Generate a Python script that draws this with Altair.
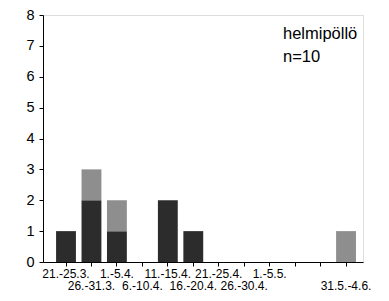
import altair as alt
import pandas as pd

cats = ["21.-25.3.", "26.-31.3.", "1.-5.4.", "6.-10.4.", "11.-15.4.", "16.-20.4.",
        "21.-25.4.", "26.-30.4.", "1.-5.5.", "6.-10.5.", "11.-15.5.", "31.5.-4.6."]
labels = ["21.-25.3.", "26.-31.3.", "1.-5.4.", "6.-10.4.", "11.-15.4.", "16.-20.4.",
          "21.-25.4.", "26.-30.4.", "1.-5.5.", "", "", "31.5.-4.6."]
dark = [1, 2, 1, 0, 2, 1, 0, 0, 0, 0, 0, 0]
gray = [0, 1, 1, 0, 0, 0, 0, 0, 0, 0, 0, 1]
species = "helmipöllö"
n_text = "n=10"

rows = []
for i, c in enumerate(cats):
    rows.append({"cat": c, "grp": "a", "ord": 0, "v": dark[i]})
    rows.append({"cat": c, "grp": "b", "ord": 1, "v": gray[i]})
df = pd.DataFrame(rows)

cats_js = "[" + ",".join("'%s'" % c for c in cats) + "]"
labels_js = "[" + ",".join("'%s'" % l for l in labels) + "]"
label_expr = (
    f"indexof({cats_js}, datum.value) % 2 == 0 ? "
    f"{labels_js}[indexof({cats_js}, datum.value)] : "
    f"['', {labels_js}[indexof({cats_js}, datum.value)]]"
)

bars = alt.Chart(df).mark_bar().encode(
    x=alt.X("cat:N", sort=cats,
            scale=alt.Scale(paddingInner=0.22, paddingOuter=0.395, align=0.65),
            axis=alt.Axis(title=None, labelAngle=0, labelExpr=label_expr,
                          labelFont="Liberation Sans", labelFontSize=12,
                          labelColor="black", labelPadding=2, labelLineHeight=12,
                          tickColor="black", tickSize=4, domainColor="black",
                          labelOverlap=False)),
    y=alt.Y("v:Q", stack="zero",
            scale=alt.Scale(domain=[0, 8]),
            axis=alt.Axis(title=None, values=list(range(9)), grid=False,
                          labelFont="Liberation Sans", labelFontSize=14.5,
                          labelColor="black", labelPadding=5,
                          tickColor="black", tickSize=4, domainColor="black")),
    color=alt.Color("grp:N", scale=alt.Scale(domain=["a", "b"], range=["#2c2c2c", "#8e8e8e"]),
                    legend=None),
    order=alt.Order("ord:Q"),
)

one = pd.DataFrame({"k": [0]})
t1 = alt.Chart(one).mark_text(
    align="left", baseline="middle", font="Liberation Sans", fontSize=16.5,
    color="black", text=species
).encode(x=alt.value(240), y=alt.value(19))
t2 = alt.Chart(one).mark_text(
    align="left", baseline="middle", font="Liberation Sans", fontSize=16.5,
    color="black", text=n_text
).encode(x=alt.value(240), y=alt.value(42))

chart = alt.layer(bars, t1, t2).properties(
    width=320, height=247,
    autosize=alt.AutoSizeParams(type="none"),
    padding={"left": 35, "top": 7, "right": 10, "bottom": 40},
).configure_view(fill="#dadada", stroke=None).configure(background="white")

chart.save("out.html", embed_options={"renderer": "svg", "actions": False})
